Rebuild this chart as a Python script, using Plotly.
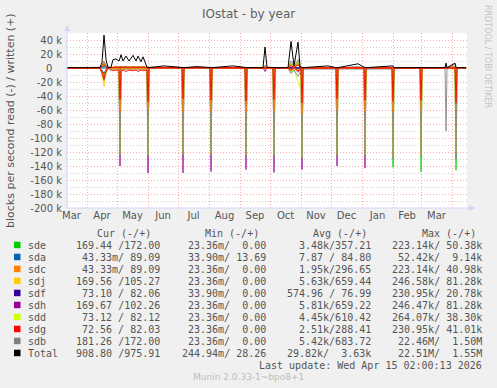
import plotly.graph_objects as go

# ---------------- data (values in thousands of blocks/s) ----------------
dates = [
    "2025-03-11", "2025-04-14", "2025-04-16", "2025-04-18", "2025-04-20", "2025-04-22", "2025-04-25", "2025-04-27", "2025-04-30", "2025-05-03",
    "2025-05-04", "2025-05-05", "2025-05-07", "2025-05-10", "2025-05-13", "2025-05-17", "2025-05-20", "2025-05-22", "2025-05-25", "2025-05-27",
    "2025-05-31", "2025-06-01", "2025-06-02", "2025-06-17", "2025-07-05", "2025-07-06", "2025-07-07", "2025-07-20", "2025-08-02", "2025-08-03",
    "2025-08-04", "2025-08-25", "2025-09-06", "2025-09-07", "2025-09-08", "2025-09-24", "2025-09-26", "2025-09-28", "2025-10-04", "2025-10-05",
    "2025-10-06", "2025-10-19", "2025-10-22", "2025-10-25", "2025-10-29", "2025-10-31", "2025-11-01", "2025-11-02", "2025-11-03", "2025-11-28",
    "2025-12-06", "2025-12-07", "2025-12-08", "2025-12-28", "2026-01-03", "2026-01-04", "2026-01-05", "2026-01-31", "2026-02-01", "2026-02-02",
    "2026-02-28", "2026-03-01", "2026-03-02", "2026-03-25", "2026-03-26", "2026-03-27", "2026-04-04", "2026-04-05", "2026-04-06", "2026-04-15",
]

sde_read = [0, 0, 5, 10, 3, 0, 0.5, 0.5, 0.5, 0.5,
            118, 0.5, 0.5, 0.5, 0.5, 0.5, 0.5, 0.5, 0.5, 0.5,
            0.5, 120, 0, 0, 0, 118, 0, 0, 0, 119,
            0, 0, 0, 118, 0, 0, 0, 0, 0, 120,
            0, 0, 3, 0, 4, 2, 0, 122, 0, 0,
            0, 118, 0, 0, 0, 117, 0, 0, 142, 0,
            0, 148, 0, 0, 0, 0, 0, 146, 0, 0]
sde_write = [0.3, 0.3, 2, 6, 2, 0.3, 0.5, 1, 1, 1,
             1, 1.5, 1, 1.5, 1, 1.5, 1, 1.5, 1, 1.5,
             0.5, 0.3, 0.3, 0.5, 0.3, 0.3, 0.3, 0.3, 0.3, 0.3,
             0.3, 0.5, 0.3, 0.3, 0.3, 0.3, 2, 0.3, 0.3, 0.3,
             0.3, 0.3, 5, 1, 6, 1, 0.3, 0.3, 0.3, 0.3,
             0.3, 0.3, 0.3, 1, 0.3, 0.3, 0.3, 0.3, 0.3, 0.3,
             0.3, 0.3, 0.3, 0.3, 2, 0.3, 2, 0.3, 0.3, 0.3]

sda_read = [0, 0, 0, 0, 0, 0, 0, 0, 0, 0,
            0, 0, 0, 0, 0, 0, 0, 0, 0, 0,
            0, 0, 0, 0, 0, 0, 0, 0, 0, 0,
            0, 0, 0, 0, 0, 0, 0, 0, 0, 0,
            0, 0, 0, 0, 0, 0, 0, 0, 0, 0,
            0, 0, 0, 0, 0, 0, 0, 0, 0, 0,
            0, 0, 0, 0, 0, 0, 0, 0, 0, 0]
sda_write = [0.1, 0.1, 0.5, 2, 0.5, 0.1, 0.1, 0.1, 0.1, 0.1,
             0.1, 0.1, 0.1, 0.1, 0.1, 0.1, 0.1, 0.1, 0.1, 0.1,
             0.1, 0.1, 0.1, 0.1, 0.1, 0.1, 0.1, 0.1, 0.1, 0.1,
             0.1, 0.1, 0.1, 0.1, 0.1, 0.1, 0.1, 0.1, 0.1, 0.1,
             0.1, 0.1, 0.1, 0.1, 0.1, 0.1, 0.1, 0.1, 0.1, 0.1,
             0.1, 0.1, 0.1, 0.1, 0.1, 0.1, 0.1, 0.1, 0.1, 0.1,
             0.1, 0.1, 0.1, 0.1, 0.1, 0.1, 0.1, 0.1, 0.1, 0.1]

sdc_read = [0, 0, 5, 12, 4, 0, 1, 1, 1, 1,
            62, 1, 1, 1, 1, 1, 1, 1, 1, 1,
            1, 60, 0, 0, 0, 63, 0, 0, 0, 61,
            0, 0, 0, 64, 0, 0, 0, 0, 0, 62,
            0, 0, 2, 0, 3, 1, 0, 66, 0, 0,
            0, 60, 0, 0, 0, 62, 0, 0, 64, 0,
            0, 60, 0, 0, 0, 0, 0, 40, 0, 0]
sdc_write = [0.3, 0.3, 2, 5, 2, 0.3, 0.5, 1, 1, 1,
             1, 1, 1, 1, 1, 1, 1, 1, 1, 1,
             0.5, 0.3, 0.3, 0.3, 0.3, 0.3, 0.3, 0.3, 0.3, 0.3,
             0.3, 0.3, 0.3, 0.3, 0.3, 0.3, 1, 0.3, 0.3, 0.3,
             0.3, 0.3, 4, 1, 5, 1, 0.3, 0.3, 0.3, 0.3,
             0.3, 0.3, 0.3, 0.5, 0.3, 0.3, 0.3, 0.3, 0.3, 0.3,
             0.3, 0.3, 0.3, 0.3, 1, 0.3, 1, 0.3, 0.3, 0.3]

sdj_read = [0, 0, 10, 26, 8, 0, 1, 1, 1, 1,
            124, 1, 1, 1, 1, 1, 1, 1, 1, 1,
            1, 125, 0, 0, 0, 124, 0, 0, 0, 124,
            0, 0, 0, 125, 0, 0, 0, 0, 0, 125,
            0, 0, 4, 0, 5, 2, 0, 129, 0, 0,
            0, 125, 0, 0, 0, 125, 0, 0, 128, 0,
            0, 125, 0, 0, 0, 0, 0, 122, 0, 0]
sdj_write = [0.5, 0.5, 3, 10, 3, 0.5, 0.5, 1.5, 2, 1.5,
             2, 1.5, 2, 1.5, 2, 1.5, 2, 1.5, 2, 1.5,
             0.5, 0.5, 0.5, 0.5, 0.5, 0.5, 0.5, 0.5, 0.5, 0.5,
             0.5, 0.5, 0.5, 0.5, 0.5, 0.5, 2, 0.5, 0.5, 0.5,
             0.5, 0.5, 6, 1, 8, 1, 0.5, 0.5, 0.5, 0.5,
             0.5, 0.5, 0.5, 1, 0.5, 0.5, 0.5, 0.5, 0.5, 0.5,
             0.5, 0.5, 0.5, 0.5, 2, 0.5, 2, 0.5, 0.5, 0.5]

sdf_read = [0, 0, 3, 8, 2, 0, 0, 0, 0, 0,
            10, 0, 0, 0, 0, 0, 0, 0, 0, 0,
            0, 10, 0, 0, 0, 10, 0, 0, 0, 10,
            0, 0, 0, 10, 0, 0, 0, 0, 0, 10,
            0, 0, 0, 0, 0, 0, 0, 10, 0, 0,
            0, 10, 0, 0, 0, 10, 0, 0, 10, 0,
            0, 10, 0, 0, 0, 0, 0, 10, 0, 0]
sdf_write = [0.1, 0.1, 1, 4, 1, 0.1, 0.1, 0.3, 0.3, 0.3,
             0.3, 0.3, 0.3, 0.3, 0.3, 0.3, 0.3, 0.3, 0.3, 0.3,
             0.1, 0.1, 0.1, 0.1, 0.1, 0.1, 0.1, 0.1, 0.1, 0.1,
             0.1, 0.1, 0.1, 0.1, 0.1, 0.1, 0.5, 0.1, 0.1, 0.1,
             0.1, 0.1, 1, 0.3, 1, 0.3, 0.1, 0.1, 0.1, 0.1,
             0.1, 0.1, 0.1, 0.1, 0.1, 0.1, 0.1, 0.1, 0.1, 0.1,
             0.1, 0.1, 0.1, 0.1, 0.5, 0.1, 0.5, 0.1, 0.1, 0.1]

sdh_read = [0, 0, 8, 18, 6, 0, 1, 1, 1, 1,
            140, 1, 1, 1, 1, 1, 1, 1, 1, 1,
            1, 150, 0, 0, 0, 150, 0, 0, 0, 148,
            0, 0, 0, 145, 0, 0, 5, 0, 0, 149,
            0, 0, 5, 0, 6, 2, 0, 145, 0, 0,
            0, 140, 0, 0, 0, 143, 0, 0, 0, 0,
            0, 0, 0, 0, 0, 0, 0, 0, 0, 0]
sdh_write = [0.5, 0.5, 3, 10, 3, 0.5, 0.5, 1.5, 2, 1.5,
             2, 1.5, 2, 1.5, 2, 1.5, 2, 1.5, 2, 1.5,
             0.5, 0.5, 0.5, 0.5, 0.5, 0.5, 0.5, 0.5, 0.5, 0.5,
             0.5, 0.5, 0.5, 0.5, 0.5, 0.5, 3, 0.5, 0.5, 0.5,
             0.5, 0.5, 6, 1, 8, 1, 0.5, 0.5, 0.5, 0.5,
             0.5, 0.5, 0.5, 1, 0.5, 0.5, 0.5, 0.5, 0.5, 0.5,
             0.5, 0.5, 0.5, 0.5, 2, 0.5, 2, 0.5, 0.5, 0.5]

sdd_read = [0, 0, 6, 13, 4, 0, 1, 1, 1, 1,
            122, 1, 1, 1, 1, 1, 1, 1, 1, 1,
            1, 123, 0, 0, 0, 122, 0, 0, 0, 122,
            0, 0, 0, 123, 0, 0, 0, 0, 0, 123,
            0, 0, 6, 2, 18, 28, 10, 127, 0, 0,
            0, 123, 0, 0, 0, 123, 0, 0, 126, 0,
            0, 123, 0, 0, 0, 0, 0, 120, 0, 0]
sdd_write = [0.4, 0.4, 2, 6, 2, 0.4, 0.5, 1, 1, 1,
             1, 1, 1, 1, 1, 1, 1, 1, 1, 1,
             0.4, 0.4, 0.4, 0.4, 0.4, 0.4, 0.4, 0.4, 0.4, 0.4,
             0.4, 0.4, 0.4, 0.4, 0.4, 0.4, 2, 0.4, 0.4, 0.4,
             0.4, 0.4, 8, 2, 10, 2, 0.4, 0.4, 0.4, 0.4,
             0.4, 0.4, 0.4, 1, 0.4, 0.4, 0.4, 0.4, 0.4, 0.4,
             0.4, 0.4, 0.4, 0.4, 1, 0.4, 1, 0.4, 0.4, 0.4]

sdg_read = [0, 0, 6, 15, 5, 0, 3, 4, 3, 4,
            45, 4, 3, 5, 3, 4, 3, 5, 3, 4,
            3, 48, 0, 0, 0, 44, 0, 0, 0, 46,
            0, 0, 0, 47, 0, 0, 0, 0, 0, 45,
            0, 0, 3, 0, 4, 2, 0, 50, 0, 0,
            0, 44, 0, 0, 0, 46, 0, 0, 48, 0,
            0, 46, 0, 0, 0, 0, 0, 50, 0, 0]
sdg_write = [0.3, 0.3, 2, 5, 2, 0.3, 0.5, 1, 1, 1,
             1, 1, 1, 1, 1, 1, 1, 1, 1, 1,
             0.3, 0.3, 0.3, 0.3, 0.3, 0.3, 0.3, 0.3, 0.3, 0.3,
             0.3, 0.3, 0.3, 0.3, 0.3, 0.3, 1, 0.3, 0.3, 0.3,
             0.3, 0.3, 3, 1, 4, 1, 0.3, 0.3, 0.3, 0.3,
             0.3, 0.3, 0.3, 0.5, 0.3, 0.3, 0.3, 0.3, 0.3, 0.3,
             0.3, 0.3, 0.3, 0.3, 1, 0.3, 1, 0.3, 0.3, 0.3]

sdb_read = [0, 0, 7, 14, 5, 0, 1.5, 1.5, 1.5, 1.5,
            125, 1.5, 1.5, 1.5, 1.5, 1.5, 1.5, 1.5, 1.5, 1.5,
            1.5, 126, 0, 0, 0, 125, 0, 0, 0, 125,
            0, 0, 0, 126, 0, 0, 2, 0, 0, 126,
            0, 0, 8, 3, 12, 6, 1, 130, 1.5, 1.5,
            1.5, 126, 1.5, 1.5, 1.5, 126, 1.5, 1.5, 130, 0,
            0, 126, 0, 0, 90, 0, 0, 130, 0, 0]
sdb_write = [0.3, 0.3, 3, 9, 4, 0.3, 0.3, 1, 1.5, 1,
             1.5, 2, 1, 2, 1, 2, 1, 2, 1, 2,
             0.3, 0.3, 0.3, 0.3, 0.3, 0.3, 0.3, 0.3, 0.3, 0.3,
             0.3, 0.3, 0.3, 0.3, 0.3, 0.3, 4, 0.3, 0.3, 0.3,
             0.3, 0.3, 10, 2, 12, 3, 0.3, 0.3, 0.3, 0.3,
             0.3, 0.3, 0.3, 2, 0.3, 0.3, 0.3, 0.3, 0.3, 0.3,
             0.3, 0.3, 0.3, 0.3, 5, 0.3, 5, 0.3, 0.3, 0.3]

total_write = [0.5, 0.5, 8, 47, 12, 1, 1, 12, 13, 10,
               14, 19, 10, 17, 10, 18, 10, 17, 9, 16,
               1, 0.5, 0.5, 3, 0.5, 0.5, 0.5, 2, 0.5, 0.5,
               0.5, 3, 0.5, 0.5, 0.5, 0.5, 30, 1, 0.5, 0.5,
               0.5, 0.5, 38, 3, 37, 2, 0.5, 0.5, 0.5, 3,
               0.5, 0.5, 0.5, 6, 0.5, 0.5, 0.5, 2, 3, 0.5,
               0.5, 0.5, 0.5, 0.5, 7, 0.5, 7, 0.5, 0.5, 0.5]

# legend table
legend_names = ["sde", "sda", "sdc", "sdj", "sdf", "sdh", "sdd", "sdg", "sdb", "Total"]
legend_colors = ["#00CC00", "#0066B3", "#FF8000", "#FFCC00", "#330099", "#990099", "#CCFF00", "#FF0000", "#808080", "#000000"]
cur_vals = ["169.44 /172.00", "43.33m/ 89.09", "43.33m/ 89.09", "169.56 /105.27", "73.10 / 82.06",
            "169.67 /102.26", "73.12 / 82.12", "72.56 / 82.03", "181.26 /172.00", "908.80 /975.91"]
min_vals = ["23.36m/  0.00", "33.90m/ 13.69", "23.36m/  0.00", "23.36m/  0.00", "33.90m/  0.00",
            "23.36m/  0.00", "23.36m/  0.00", "23.36m/  0.00", "23.36m/  0.00", "244.94m/ 28.26"]
avg_vals = ["3.48k/357.21", "7.87 / 84.80", "1.95k/296.65", "5.63k/659.44", "574.96 / 76.99",
            "5.81k/659.22", "4.45k/610.42", "2.51k/288.41", "5.42k/683.72", "29.82k/  3.63k"]
max_vals = ["223.14k/ 50.38k", "52.42k/  9.14k", "223.14k/ 40.98k", "246.58k/ 81.28k", "230.95k/ 20.78k",
            "246.47k/ 81.28k", "264.07k/ 38.30k", "230.95k/ 41.01k", "22.46M/  1.50M", "22.51M/  1.55M"]

y_tick_vals = [40000, 20000, 0, -20000, -40000, -60000, -80000, -100000, -120000, -140000, -160000, -180000, -200000]
y_tick_text = ["40 k", "20 k", "0\u00a0\u00a0\u00a0", "-20 k", "-40 k", "-60 k", "-80 k", "-100 k", "-120 k",
               "-140 k", "-160 k", "-180 k", "-200 k"]

K = 1000
series = {
    "sde": (sde_read, sde_write), "sda": (sda_read, sda_write), "sdc": (sdc_read, sdc_write),
    "sdj": (sdj_read, sdj_write), "sdf": (sdf_read, sdf_write), "sdh": (sdh_read, sdh_write),
    "sdd": (sdd_read, sdd_write), "sdg": (sdg_read, sdg_write), "sdb": (sdb_read, sdb_write),
}
color_of = dict(zip(legend_names, legend_colors))
draw_order = ["sda", "sdf", "sde", "sdh", "sdj", "sdd", "sdb", "sdc", "sdg"]

fig = go.Figure()
for nm in draw_order:
    rd, wr = series[nm]
    fig.add_trace(go.Scatter(x=dates, y=[-v * K for v in rd], mode="lines",
                             line=dict(color=color_of[nm], width=1), opacity=0.85,
                             showlegend=False, hoverinfo="skip"))
    fig.add_trace(go.Scatter(x=dates, y=[v * K for v in wr], mode="lines",
                             line=dict(color=color_of[nm], width=1), opacity=0.85,
                             showlegend=False, hoverinfo="skip"))
fig.add_trace(go.Scatter(x=dates, y=[v * K for v in total_write], mode="lines",
                         line=dict(color="#000000", width=1), showlegend=False, hoverinfo="skip"))

# ---------------- layout ----------------
L, R, T, B = 67, 467, 33, 208


def px(x):
    return (x - L) / (R - L)


def py(y):
    return (B - y) / (B - T)


MGRID = "rgba(255,60,60,0.45)"
GRID = "rgba(150,150,150,0.45)"
TXT = "#555555"
AXIS = "#CFD6F8"

fig.update_layout(
    width=497, height=388,
    margin=dict(l=L, r=497 - R, t=T, b=388 - B, autoexpand=False),
    paper_bgcolor="#F0F0F0", plot_bgcolor="#FFFFFF", showlegend=False,
    font=dict(family="DejaVu Sans", size=10, color=TXT),
)
fig.update_xaxes(
    type="date", range=["2025-03-12", "2026-04-15 23:00"],
    dtick="M1", tick0="2025-01-01", tickformat="%b", ticklabelmode="period",
    showgrid=True, gridcolor=MGRID, griddash="1px,2px", gridwidth=1,
    zeroline=False, showline=False, ticks="", tickfont=dict(size=10, color=TXT),
)
fig.update_yaxes(
    range=[-200000, 50000], tickmode="array", tickvals=y_tick_vals, ticktext=y_tick_text,
    showgrid=True, gridcolor=MGRID, griddash="1px,2px", gridwidth=1,
    minor=dict(tickvals=list(range(-190000, 60000, 20000)), showgrid=True,
               gridcolor=GRID, griddash="1px,2px", gridwidth=1, ticks=""),
    zeroline=False, showline=False, ticks="", tickfont=dict(size=10, color=TXT),
    ticklabelstandoff=4,
)

shapes = [
    dict(type="line", xref="paper", yref="paper", x0=px(67), x1=px(67), y0=py(208), y1=py(29),
         line=dict(color=AXIS, width=1)),
    dict(type="path", xref="paper", yref="paper",
         path=f"M {px(64)},{py(31)} L {px(70)},{py(31)} L {px(67)},{py(25)} Z",
         fillcolor=AXIS, line=dict(width=0)),
    dict(type="line", xref="paper", yref="paper", x0=px(67), x1=px(471), y0=py(208), y1=py(208),
         line=dict(color=AXIS, width=1)),
    dict(type="path", xref="paper", yref="paper",
         path=f"M {px(469)},{py(205)} L {px(469)},{py(211)} L {px(475)},{py(208)} Z",
         fillcolor=AXIS, line=dict(width=0)),
]

ann = []
ann.append(dict(text="IOstat - by year", x=px(248), y=py(14), xref="paper", yref="paper",
                showarrow=False, font=dict(size=12, color="#606060"), xanchor="center", yanchor="middle"))
ann.append(dict(text="blocks per second read (-) / written (+)", x=px(10), y=py(121), xref="paper", yref="paper",
                showarrow=False, textangle=-90, font=dict(size=11, color=TXT), xanchor="center", yanchor="middle"))
ann.append(dict(text="RRDTOOL / TOBI OETIKER", x=px(488), y=py(56), xref="paper", yref="paper",
                showarrow=False, textangle=90, font=dict(size=8, color="#C4C4C4"), xanchor="center", yanchor="middle"))

MONO = "DejaVu Sans Mono"


def nb(s):
    return s.replace(" ", "\u00a0")


def txt(s, x, y, anchor, size=10, color=TXT, family=MONO):
    return dict(text=nb(s), x=px(x), y=py(y), xref="paper", yref="paper", showarrow=False,
                xanchor=anchor, yanchor="middle", borderpad=0,
                font=dict(family=family, size=size, color=color))


hdr_y = 233
ann.append(txt("Cur (-/+)", 152, hdr_y, "right"))
ann.append(txt("Min (-/+)", 260, hdr_y, "right"))
ann.append(txt("Avg (-/+)", 368, hdr_y, "right"))
ann.append(txt("Max (-/+)", 477, hdr_y, "right"))

for i, nm in enumerate(legend_names):
    ry = 245 + 12 * i
    shapes.append(dict(type="rect", xref="paper", yref="paper", x0=px(14), x1=px(20.5),
                       y0=py(ry + 3.2), y1=py(ry - 3.3), fillcolor=legend_colors[i], line=dict(width=0)))
    ann.append(txt(nm, 27, ry, "left"))
    ann.append(txt(cur_vals[i], 161, ry, "right"))
    ann.append(txt(min_vals[i], 267, ry, "right"))
    ann.append(txt(avg_vals[i], 372, ry, "right"))
    ann.append(txt(max_vals[i], 483, ry, "right"))

ann.append(txt("Last update: Wed Apr 15 02:00:13 2026", 483, 365, "right"))
ann.append(txt("Munin 2.0.33-1~bpo8+1", 248, 377, "center", size=9, color="#BDBDBD", family="DejaVu Sans"))

fig.update_layout(shapes=shapes, annotations=ann)
fig.write_html("out.html", config={"displayModeBar": False},
               post_script="document.body.style.margin='0';document.body.style.overflow='hidden';")
